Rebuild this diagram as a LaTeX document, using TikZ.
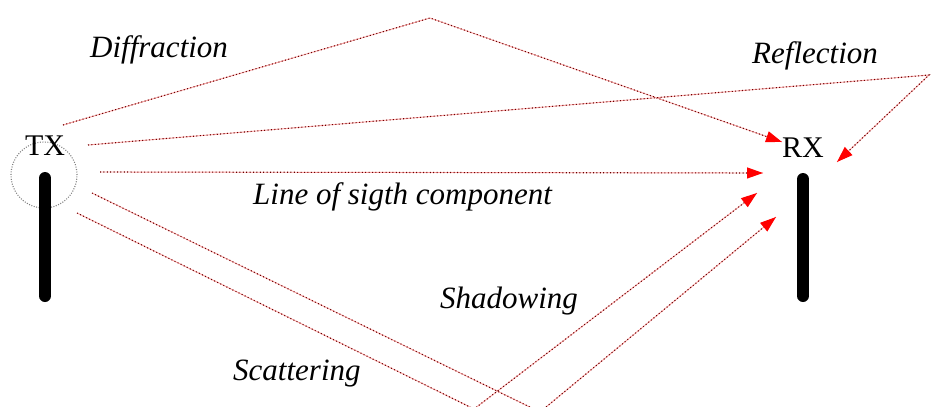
\documentclass[tikz,border=0pt]{standalone}
\usepackage{fontspec}
\setmainfont{Liberation Serif}
\usetikzlibrary{arrows.meta}
\tikzset{
  ray/.style={draw=red!40!black, line width=1.1pt, dash pattern=on 1pt off 2.4pt,
    preaction={draw=red!35, solid, line width=0.9pt, arrows=-}},
  rayarrow/.style={ray, -{Triangle[length=16pt,width=11pt,color=red,fill=red]}},
  lbl/.style={font=\fontsize{31}{36}\selectfont\itshape, inner sep=0pt, anchor=base west},
  station/.style={font=\fontsize{30}{36}\selectfont, inner sep=0pt, anchor=base},
  pole/.style={line width=12pt, line cap=round, draw=black},
  zone/.style={draw=gray, line width=1.1pt, dash pattern=on 1pt off 1.5pt, circle, minimum size=66pt, inner sep=0pt}
}
\begin{document}
\begin{tikzpicture}[x=1pt,y=-1pt]
\useasboundingbox (0,0) rectangle (932,407);
% stations
\node[zone] (txzone) at (44,175) {};
\coordinate (txtop) at (45,178);
\coordinate (txbot) at (45,296);
\draw[pole] (txtop) -- (txbot);
\coordinate (rxtop) at (803,179);
\coordinate (rxbot) at (803,296);
\draw[pole] (rxtop) -- (rxbot);
\node[station] (tx) at (45,155) {TX};
\node[station] (rx) at (803,157) {RX};
% ray points
\coordinate (dS) at (63,125);
\coordinate (dP) at (430,18);
\coordinate (dE) at (782,142);
\coordinate (rS) at (88,145);
\coordinate (rP) at (929,75);
\coordinate (rE) at (837,162);
\coordinate (lS) at (100,172);
\coordinate (lE) at (763,173);
\coordinate (s1S) at (92,193);
\coordinate (s1P) at (540,412);
\coordinate (s1E) at (776,217);
\coordinate (s2S) at (77,213);
\coordinate (s2P) at (474,409);
\coordinate (s2E) at (757,193);
% rays
\draw[rayarrow] (dS) -- (dP) -- (dE);
\draw[rayarrow] (rS) -- (rP) -- (rE);
\draw[rayarrow] (lS) -- (lE);
\draw[rayarrow] (s1S) -- (s1P) -- (s1E);
\draw[rayarrow] (s2S) -- (s2P) -- (s2E);
% labels
\node[lbl] (ldiff) at (90,57) {Diffraction};
\node[lbl] (lrefl) at (752,63) {Reflection};
\node[lbl] (llos) at (253,204) {Line of sigth component};
\node[lbl] (lshad) at (440,308) {Shadowing};
\node[lbl] (lscat) at (233,380) {Scattering};
\end{tikzpicture}
\end{document}
